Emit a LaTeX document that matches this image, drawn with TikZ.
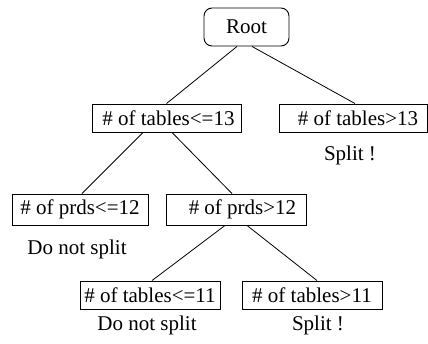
\documentclass[tikz,border=0pt]{standalone}
\usepackage{fontspec}
\setmainfont{Liberation Serif}
\newfontfamily\treefont{Liberation Serif}
\usepackage{tikz}
\tikzset{
  cond/.style={draw, line width=0.45pt, inner sep=0pt, minimum height=14pt},
  verdict/.style={inner sep=0pt}
}

\begin{document}
\begin{tikzpicture}[x=0.5pt, y=-0.5pt, font=\treefont\fontsize{10.5}{12}\selectfont]
    \useasboundingbox (0,0) rectangle (428,343);
    % root
    \node[cond, rounded corners=4pt, minimum width=42.5pt, minimum height=19pt] (root) at (246.5,27) {Root};
    % level1
    \node[cond, minimum width=74.5pt] (tle13) at (166.5,118) {\hspace*{2pt}\# of tables<=13};
    \node[cond, minimum width=74pt] (tgt13) at (353,118) {\hspace*{5pt}\# of tables>13};
    \node[verdict] (split1) at (350,155) {Split !};
    % level2
    \node[cond, minimum width=68pt, minimum height=15.5pt] (ple12) at (80,209.5) {\# of prds<=12};
    \node[cond, minimum width=70pt, minimum height=15.5pt] (pgt12) at (236,209.5) {\hspace*{6.5pt}\# of prds>12};
    \node[verdict] (nosplit1) at (77,249) {Do not split};
    % level3
    \node[cond, minimum width=70pt] (tle11) at (150,295) {\# of tables<=11};
    \node[cond, minimum width=70pt] (tgt11) at (312,295) {\# of tables>11};
    \node[verdict] (nosplit2) at (147,325) {Do not split};
    \node[verdict] (split2) at (318,325) {Split !};
    % edges
    \draw ([xshift=-4.75pt]root.south) -- (tle13.north);
    \draw ([xshift=2.75pt]root.south) -- ([xshift=1pt]tgt13.north);
    \draw ([xshift=-11.75pt]tle13.south) -- ([xshift=1pt]ple12.north);
    \draw ([xshift=2.75pt]tle13.south) -- ([xshift=-2pt]pgt12.north);
    \draw ([xshift=-5.5pt]pgt12.south) -- ([xshift=1pt]tle11.north);
    \draw ([xshift=5.5pt]pgt12.south) -- ([xshift=2.5pt]tgt11.north);
\end{tikzpicture}
\end{document}
